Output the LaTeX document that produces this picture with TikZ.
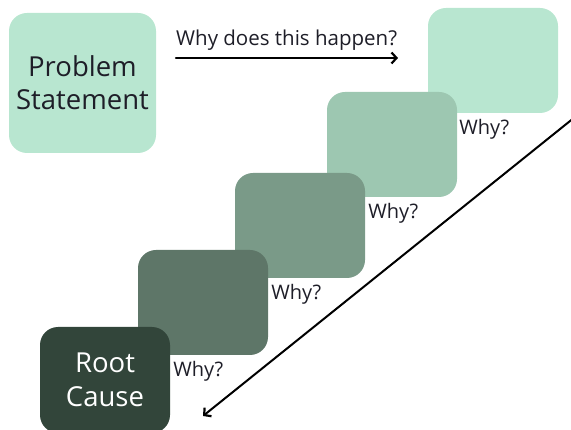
\documentclass[tikz,border=0pt]{standalone}
\usepackage{fontspec}
\setmainfont{Open Sans}
\usetikzlibrary{arrows.meta}
\definecolor{mintA}{HTML}{B8E6D0}
\definecolor{mintB}{HTML}{9DC7B1}
\definecolor{sageC}{HTML}{7A9A88}
\definecolor{sageD}{HTML}{5E7668}
\definecolor{forestE}{HTML}{32453A}
\definecolor{inkcol}{HTML}{1E1E28}
\tikzset{
  whybox/.style={rectangle, rounded corners=18pt, minimum width=130pt, minimum height=105pt, inner sep=0pt, align=center},
  whylabel/.style={anchor=west, inner sep=0pt, text=inkcol, font=\fontsize{20}{24}\selectfont},
  arrowline/.style={draw=black, line width=2.2pt, line cap=round, -{Straight Barb[length=5pt,width=11pt,line width=2.2pt]}}
}
\begin{document}
\begin{tikzpicture}[x=1pt,y=-1pt]
\useasboundingbox (0,0) rectangle (571,430);
\clip (0,0) rectangle (571,430);
% problem statement
\node[whybox, fill=mintA, minimum width=147pt, minimum height=140pt, text=inkcol,
      font=\fontsize{27.5}{33}\selectfont] (prob) at (82.5,83) {Problem\\Statement};
% chain of "why" steps, each drawn over the previous one
\node[whybox, fill=mintA] (w1) at (493,60.5) {};
\node[whybox, fill=mintB] (w2) at (392,144.5) {};
\node[whybox, fill=sageC] (w3) at (300,225.5) {};
\node[whybox, fill=sageD] (w4) at (203,302.5) {};
\node[whybox, fill=forestE, minimum height=106pt, text=white,
      font=\fontsize{27.5}{34}\selectfont] (root) at (105,380) {Root\\Cause};
% labels
\node[whylabel] (l1) at ([xshift=2pt,yshift=-16pt]w1.south west -| w2.east) {Why?};
\node[whylabel] (l2) at ([xshift=3pt,yshift=-16pt]w2.south -| w3.east) {Why?};
\node[whylabel] (l3) at ([xshift=3pt,yshift=-16pt]w3.south -| w4.east) {Why?};
\node[whylabel] (l4) at ([xshift=3pt,yshift=-16pt]w4.south -| root.east) {Why?};
% top arrow
\coordinate (ta) at (176,58);
\coordinate (tb) at (398,58);
\draw[arrowline] (ta) -- (tb);
\node[anchor=south west, inner sep=0pt, text=inkcol, font=\fontsize{20.5}{24}\selectfont] (q) at (176,51) {Why does this happen?};
% diagonal arrow
\coordinate (da) at (580,113);
\coordinate (db) at (203,416);
\draw[arrowline, line width=2pt] (da) -- (db);
\end{tikzpicture}
\end{document}
